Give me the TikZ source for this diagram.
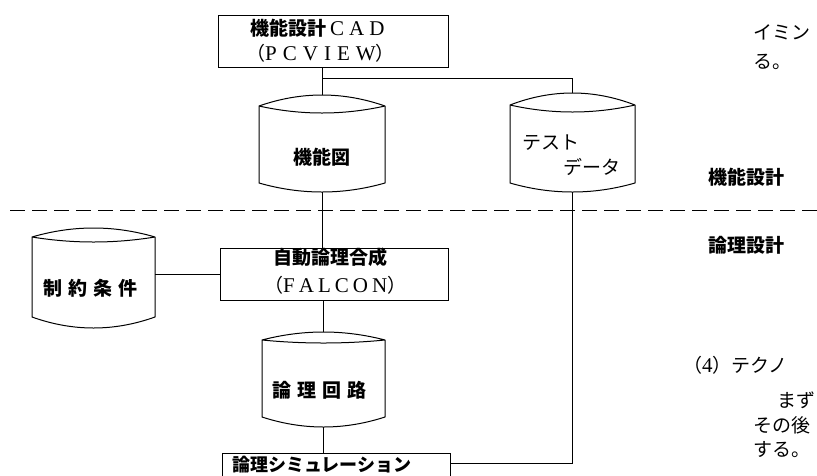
\documentclass[tikz,border=0pt]{standalone}
\usepackage{fontspec}
\setmainfont{Liberation Serif}
\newfontfamily\jp{Noto Sans CJK JP}
\newcommand\lsp{\hspace{6pt}}
\newcommand\lat[1]{{\rmfamily\mdseries\fontsize{21pt}{22pt}\selectfont #1}}
\newcommand\cylpath[7]{%
  \pgfmathsetmacro\cyA{#3+4/3*(#4-#3)}%
  \pgfmathsetmacro\cyI{#3+4/3*(#5-#3)}%
  \pgfmathsetmacro\cyL{#6+4/3*(#7-#6)}%
  \pgfmathsetmacro\cxA{#1+(#2-#1)/3}%
  \pgfmathsetmacro\cxB{#1+2*(#2-#1)/3}%
  \draw[ln, line join=round] (#1,#3) .. controls (\cxA,\cyA) and (\cxB,\cyA) .. (#2,#3)
    .. controls (\cxB,\cyI) and (\cxA,\cyI) .. (#1,#3) -- (#1,#6)
    .. controls (\cxA,\cyL) and (\cxB,\cyL) .. (#2,#6) -- (#2,#3);
}
\tikzset{
  ln/.style={line width=1pt, black},
  box/.style={draw, line width=1pt, inner sep=0pt, rectangle},
  area/.style={inner sep=0pt, rectangle},
  txt/.style={inner sep=0pt, font=\jp\fontsize{19pt}{22pt}\selectfont},
}
\begin{document}
\begin{tikzpicture}[x=1pt,y=-1pt]
\clip (0,0) rectangle (817,475);
\fill[white] (0,0) rectangle (817,475);

% boxes
\node[box, minimum width=230pt, minimum height=52pt] (cad) at (333,41) {};
\node[box, minimum width=228pt, minimum height=52pt] (auto) at (334,274) {};
\node[box, minimum width=228pt, minimum height=44pt] (sim) at (336,475) {};

% cylinders
\cylpath{259}{385}{106}{95}{113}{183}{192}
\node[area, minimum width=126pt, minimum height=97pt] (kinozu) at (322,143.5) {};
\cylpath{510}{635}{105}{93}{112}{183}{192}
\node[area, minimum width=125pt, minimum height=99pt] (test) at (572.5,142.5) {};
\cylpath{32}{155}{237}{228}{242}{317}{328}
\node[area, minimum width=123pt, minimum height=100pt] (seiyaku) at (93.5,278) {};
\cylpath{262}{385}{340}{332}{343}{417}{427}
\node[area, minimum width=123pt, minimum height=95pt] (ronri) at (323.5,379.5) {};

% dashed separator
\coordinate (dl) at (10,210);
\coordinate (dr) at (817,210);
\draw[ln, dash pattern=on 15pt off 7pt] (dl) -- (dr);

% connectors
\draw[ln] (kinozu.north) -- (kinozu.north |- cad.south);
\coordinate (j1) at (322,78);
\draw[ln] (j1) -| (test.north);
\draw[ln] (kinozu.south) -- (kinozu.south |- auto.north);
\draw[ln] (seiyaku.east |- auto.west) -- (auto.west);
\draw[ln] (auto.south -| ronri.north) -- (ronri.north);
\draw[ln] (ronri.south) -- (ronri.south |- sim.north);
\draw[ln] (test.south) |- ([yshift=-11pt]sim.north east);

% texts
\node[txt, anchor=west] (t1) at (250,28) {\bfseries 機能設計\lat{\hspace{4pt}C\hspace{5pt}A\hspace{5pt}D}};
\node[txt, anchor=west] (t2) at (246,53) {（\lat{P\hspace{6pt}C\hspace{6pt}V\hspace{6pt}I\hspace{6pt}E\hspace{6pt}W}）};
\node[txt] (t3) at (322,157) {\bfseries 機能図};
\node[txt, anchor=west] (t4) at (522,143) {テスト};
\node[txt, anchor=west] (t5) at (563,167) {データ};
\node[txt, anchor=west] (t6) at (708,177) {\bfseries 機能設計};
\node[txt, anchor=west] (t7) at (708,245) {\bfseries 論理設計};
\node[txt, anchor=west] (t8) at (273,257) {\bfseries 自動論理合成};
\node[txt, anchor=west] (t9) at (264,285) {（\lat{F\hspace{4pt}A\hspace{4pt}L\hspace{4pt}C\hspace{4pt}O\hspace{4pt}N}）};
\node[txt, anchor=west] (t10) at (43,288) {\bfseries 制\lsp 約\lsp 条\lsp 件};
\node[txt, anchor=west] (t11) at (272,390) {\bfseries 論\lsp 理\lsp 回\lsp 路};
\node[txt, anchor=west, font=\jp\fontsize{18pt}{20pt}\selectfont] (t12) at (232,465) {\bfseries 論理シミュレーション};
\node[txt, anchor=west] (t13) at (753,32) {イミン};
\node[txt, anchor=west] (t14) at (753,62) {る。};
\node[txt, anchor=west] (t15) at (683,365) {（\lat{4}）テクノ};
\node[txt, anchor=west] (t16) at (777,400) {まず};
\node[txt, anchor=west] (t17) at (753,425) {その後};
\node[txt, anchor=west] (t18) at (753,450) {する。};
\end{tikzpicture}
\end{document}
